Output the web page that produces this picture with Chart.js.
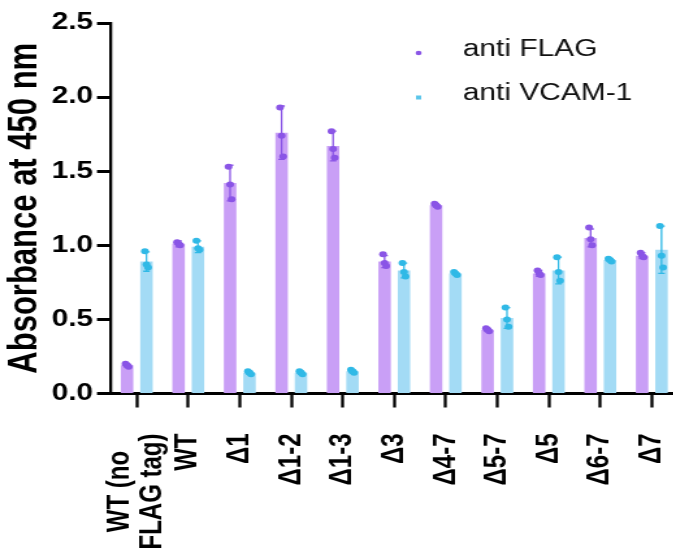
<!DOCTYPE html>
<html>
<head>
<meta charset="utf-8">
<script src="https://cdn.jsdelivr.net/npm/chart.js@4.4.1/dist/chart.umd.min.js"></script>
<style>
  html, body { margin: 0; padding: 0; background: #fff; overflow: hidden; }
  /* the original figure is stretched sideways, so draw narrow and widen it */
  #wrap { width: 580px; height: 552px; transform: scaleX(1.3); transform-origin: 0 0; }
</style>
</head>
<body>
<div id="wrap"><canvas id="myChart" width="580" height="552"></canvas></div>
<script>
const categories = [['WT (no', 'FLAG tag)'], 'WT', 'Δ1', 'Δ1-2', 'Δ1-3', 'Δ3', 'Δ4-7', 'Δ5-7', 'Δ5', 'Δ6-7', 'Δ7'];

// anti FLAG
const flagMean = [0.19, 1.01, 1.42, 1.76, 1.67, 0.89, 1.27, 0.43, 0.81, 1.05, 0.93];
const flagErr = [0.01, 0.02, 0.12, 0.18, 0.10, 0.04, 0.01, 0.01, 0.02, 0.06, 0.02];
const flagPts = [[0.20, 0.19, 0.18], [1.02, 1.01, 1.00], [1.53, 1.41, 1.31], [1.93, 1.74, 1.60],
  [1.77, 1.65, 1.59], [0.94, 0.88, 0.86], [1.28, 1.27, 1.26], [0.44, 0.43, 0.42],
  [0.83, 0.81, 0.80], [1.12, 1.04, 1.00], [0.95, 0.93, 0.92]];

// anti VCAM-1
const vcamMean = [0.89, 0.99, 0.14, 0.14, 0.15, 0.83, 0.81, 0.51, 0.83, 0.90, 0.97];
const vcamErr = [0.065, 0.04, 0.01, 0.01, 0.01, 0.05, 0.005, 0.07, 0.09, 0.01, 0.16];
const vcamPts = [[0.96, 0.87, 0.85], [1.03, 0.98, 0.97], [0.15, 0.14, 0.13], [0.15, 0.14, 0.13],
  [0.16, 0.15, 0.14], [0.88, 0.82, 0.79], [0.82, 0.81, 0.80], [0.58, 0.50, 0.45],
  [0.92, 0.82, 0.76], [0.91, 0.90, 0.89], [1.13, 0.93, 0.85]];

const yTicks = [0, 0.5, 1.0, 1.5, 2.0, 2.5];

const FONT = '"Liberation Sans", Arial, sans-serif';
const barColors = ['#c99ff6', '#a3dbf5'];
const dotColors = ['#8a55e6', '#30b9e6'];

// error bars + replicate dots, placed on each bar
const errorDots = {
  id: 'errorDots',
  afterDatasetsDraw(chart) {
    const ctx = chart.ctx;
    const y = chart.scales.y;
    const errs = [flagErr, vcamErr];
    const pts = [flagPts, vcamPts];
    chart.data.datasets.forEach((ds, di) => {
      chart.getDatasetMeta(di).data.forEach((bar, i) => {
        const m = ds.data[i], e = errs[di][i];
        const top = y.getPixelForValue(m + e), bot = y.getPixelForValue(m - e);
        ctx.save();
        ctx.strokeStyle = dotColors[di];
        ctx.fillStyle = dotColors[di];
        ctx.lineWidth = 1.3;
        ctx.beginPath();
        ctx.moveTo(bar.x, top); ctx.lineTo(bar.x, bot);
        ctx.moveTo(bar.x - 2.5, top); ctx.lineTo(bar.x + 2.5, top);
        ctx.moveTo(bar.x - 2.5, bot); ctx.lineTo(bar.x + 2.5, bot);
        ctx.stroke();
        pts[di][i].forEach((v, k) => {
          ctx.beginPath();
          ctx.arc(bar.x + (k - 1) * 1.2, y.getPixelForValue(v), 3, 0, Math.PI * 2);
          ctx.fill();
        });
        ctx.restore();
      });
    });
  }
};

// two-row legend in the upper right, like the figure
const sideLegend = {
  id: 'sideLegend',
  afterDraw(chart) {
    const ctx = chart.ctx;
    ctx.save();
    ctx.font = '23px ' + FONT;
    ctx.textBaseline = 'middle';
    ctx.fillStyle = '#111';
    chart.data.datasets.forEach((ds, di) => {
      ctx.fillText(ds.label, 356, 50 + di * 44);
    });
    ctx.fillStyle = dotColors[0];
    ctx.beginPath(); ctx.arc(322, 53, 2.3, 0, Math.PI * 2); ctx.fill();
    ctx.fillStyle = '#5cc6ea';
    ctx.fillRect(320, 95.5, 4, 4);
    ctx.restore();
  }
};

// the two-line first label is centred on its tick, lines centred on each other
const centreFirstLabel = {
  id: 'centreFirstLabel',
  beforeDraw(chart) {
    const items = chart.scales.x.getLabelItems(chart.chartArea);
    const it = items[0];
    if (it && !it._moved) {
      const ctx = chart.ctx;
      ctx.save();
      ctx.font = it.font.string;
      const w = Math.max(...it.label.map(s => ctx.measureText(s).width));
      ctx.restore();
      it.options.translation[0] -= it.font.lineHeight / 2;
      it.options.translation[1] += w / 2;
      it.options.textAlign = 'center';
      it._moved = true;
    }
  }
};

const config = {
  type: 'bar',
  data: {
    labels: categories,
    datasets: [
      { label: 'anti FLAG', data: flagMean, backgroundColor: barColors[0], categoryPercentage: 0.753, barPercentage: 0.644 },
      { label: 'anti VCAM-1', data: vcamMean, backgroundColor: barColors[1], categoryPercentage: 0.753, barPercentage: 0.644 }
    ]
  },
  options: {
    responsive: false,
    animation: false,
    devicePixelRatio: 1,
    layout: { padding: { top: 23, right: 58.8, bottom: 0, left: 0 } },
    plugins: { legend: { display: false }, tooltip: { enabled: false } },
    scales: {
      x: {
        grid: { drawOnChartArea: false, offset: false, tickLength: 14, tickWidth: 2.3, tickColor: '#000' },
        border: { color: '#000', width: 3 },
        ticks: {
          autoSkip: false, minRotation: 90, maxRotation: 90, padding: 26, color: '#000',
          font: { family: FONT, size: 24, weight: 'bold', lineHeight: 1.03 }
        },
        afterFit: s => { s.height = 158.5; }
      },
      y: {
        min: 0, max: 2.5,
        afterBuildTicks: s => { s.ticks = yTicks.map(v => ({ value: v })); },
        ticks: {
          padding: 3, color: '#000',
          callback: v => v.toFixed(1),
          font: { family: FONT, size: 23, weight: 'bold' }
        },
        grid: { drawOnChartArea: false, tickLength: 10.8, tickWidth: 3, tickColor: '#000' },
        border: { color: '#000', width: 2.3 },
        title: {
          display: true, text: 'Absorbance at 450 nm', color: '#000',
          font: { family: FONT, size: 31, weight: 'bold' },
          padding: { top: 1, bottom: 0 }
        },
        afterFit: s => { s.width = 85.4; }
      }
    }
  },
  plugins: [errorDots, sideLegend, centreFirstLabel]
};

new Chart('myChart', config);
</script>
</body>
</html>
